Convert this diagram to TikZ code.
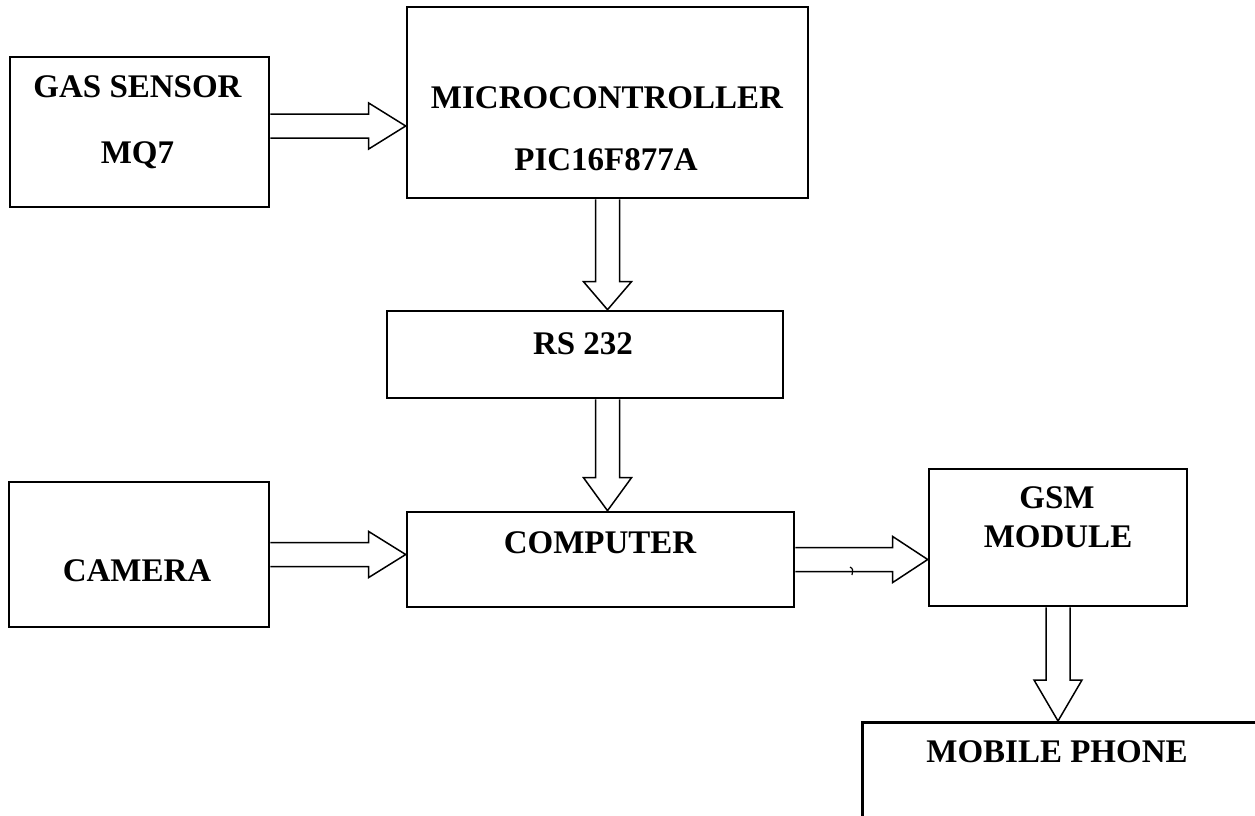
\documentclass[tikz,border=0pt]{standalone}
\usepackage{fontspec}
\setmainfont{Liberation Serif}
\usepackage{tikz}
\usetikzlibrary{calc}

% hollow block arrows: [head length]{from}{to}
\newcommand{\harrow}[3][36]{%
\draw[hollow] let \p1=(#2), \p2=(#3) in
(\x1,\y1+12pt) -- (\x2-#1pt,\y1+12pt) -- (\x2-#1pt,\y1+23pt) -- (\x2,\y1)
-- (\x2-#1pt,\y1-23pt) -- (\x2-#1pt,\y1-12pt) -- (\x1,\y1-12pt);}
\newcommand{\varrow}[3][32]{%
\draw[hollow] let \p1=(#2), \p2=(#3) in
(\x1+12pt,\y1) -- (\x1+12pt,\y2+#1pt) -- (\x1+24pt,\y2+#1pt) -- (\x1,\y2)
-- (\x1-24pt,\y2+#1pt) -- (\x1-12pt,\y2+#1pt) -- (\x1-12pt,\y1);}

\begin{document}
\begin{tikzpicture}[x=1pt,y=-1pt,
block/.style={draw, line width=2.6pt, inner sep=0pt},
hollow/.style={draw, line width=1.5pt, line join=miter},
txt/.style={anchor=base, inner sep=0pt, font=\bfseries\fontsize{33}{40}\selectfont}]
\useasboundingbox (0,0) rectangle (1255,816);

\node[block, minimum width=259pt, minimum height=150pt] (gas) at (139.5,132) {};
\node[block, minimum width=401pt, minimum height=191pt] (mc) at (607.5,102.5) {};
\node[block, minimum width=396pt, minimum height=87pt] (rs) at (585,354.5) {};
\node[block, minimum width=260pt, minimum height=145pt] (camera) at (139,554.5) {};
\node[block, minimum width=387pt, minimum height=95pt] (comp) at (600.5,559.5) {};
\node[block, minimum width=258pt, minimum height=137pt] (gsm) at (1058,537.5) {};
\node[block, minimum width=420pt, minimum height=130pt, anchor=north west] (mobile) at (861,721) {};

\node[txt] (gas1) at (137.5,97) {GAS SENSOR};
\node[txt] (gas2) at (137.5,163) {MQ7};
\node[txt] (mc1) at (607,108) {MICROCONTROLLER};
\node[txt] (mc2) at (606,170) {PIC16F877A};
\node[txt] (rs1) at (583,354) {RS 232};
\node[txt] (comp1) at (600,553) {COMPUTER};
\node[txt] (cam1) at (137,581) {CAMERA};
\node[txt] (gsm1) at (1057,508) {GSM};
\node[txt] (gsm2) at (1058,547) {MODULE};
\node[txt] (mob1) at (1057,762) {MOBILE PHONE};

\harrow[37]{[yshift=6pt]gas.east}{mc.west}
\varrow[28]{mc.south}{rs.north}
\varrow[33]{rs.south -| mc.south}{comp.north}
\harrow[37]{camera.east}{comp.west}
\harrow[35]{comp.east}{gsm.west}
\varrow[41]{gsm.south}{mobile.north -| gsm.south}
% stray mark on the shaft
\draw[line width=1.2pt] (850,567) .. controls (853,569) .. (852,575);
\end{tikzpicture}
\end{document}
